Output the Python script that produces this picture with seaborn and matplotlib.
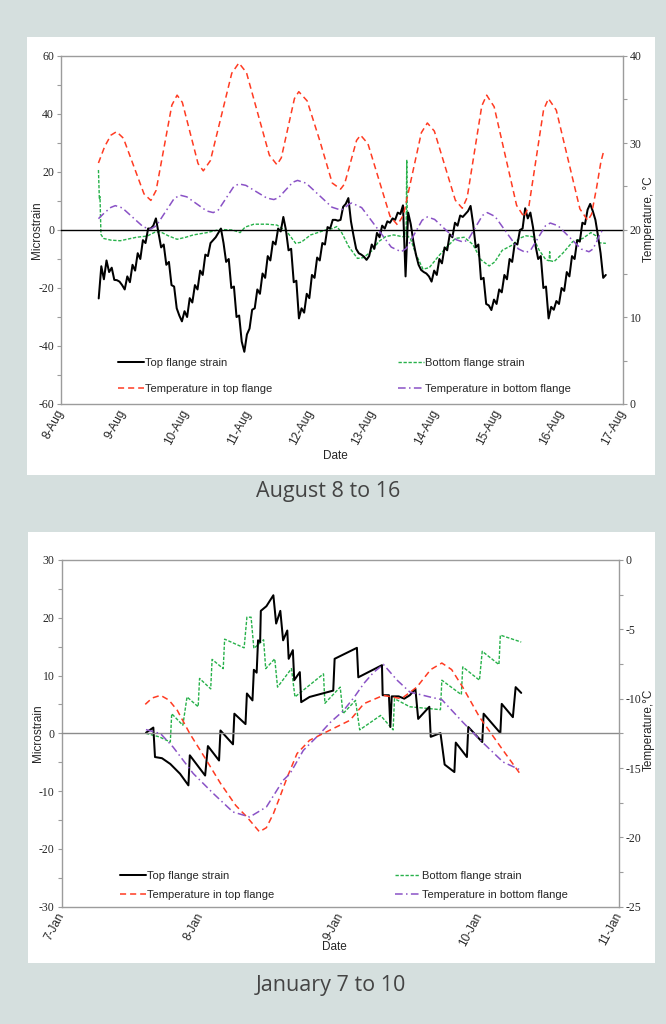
import numpy as np
import pandas as pd
import matplotlib
matplotlib.use("Agg")
import matplotlib.pyplot as plt
from matplotlib.patches import Rectangle
from matplotlib.ticker import MultipleLocator
import seaborn as sns

sns.set_style("white")
plt.rcParams["font.family"] = ["Liberation Sans", "DejaVu Sans"]
plt.rcParams["axes.unicode_minus"] = False

# ---------------------------------------------------------------- August data
aug_ticks = [8, 9, 10, 11, 12, 13, 14, 15, 16, 17]
aug_tick_labels = ["8-Aug", "9-Aug", "10-Aug", "11-Aug", "12-Aug", "13-Aug",
                   "14-Aug", "15-Aug", "16-Aug", "17-Aug"]

# top flange strain, hourly readings starting 8 Aug 14:30
aug_top_strain_start = 8 + 14.5 / 24
aug_top_strain = [
    -23.6, -12.5, -17, -10.5, -14.5, -13, -17.2, -17.3, -17.8, -19, -20.5, -16,
    -18, -12, -14, -8, -10, -3.5, -4.5, 0.5, 0.5, 1.5, 4, -1,
    -6, -5, -12, -11, -19, -19.5, -27, -29.5, -31.5, -28, -30, -23.5,
    -25, -19, -20.5, -14, -15.5, -8.5, -9, -4.5, -3.5, -2.5, -1, 0.5,
    -4.5, -11, -10, -20, -19.5, -30, -29.5, -38.5, -42, -36, -34, -27.5,
    -27, -20.5, -22, -15, -16.5, -9, -10.5, -4, -5, 0.5, -0.5, 4.5,
    0, -7, -6.5, -18, -17.5, -30.5, -27, -28.5, -22, -23.5, -15.5, -16.5,
    -9.5, -10.5, -4.5, -5, 1, 0.5, 3.5, 3.5, 3.2, 3.5, 8, 9,
    11, 3, -2, -6.5, -8, -8.5, -9.2, -10.3, -9, -5, -6.5, -1,
    -2.5, 1.5, 0.5, 3, 2.5, 4, 3.5, 6, 5.5, 8.5, -16, 6,
    2, -4, -8.5, -12, -13.8, -14.5, -15, -16, -17.8, -14, -15.5, -10,
    -11.5, -6, -7, -1.5, -2.5, 2.5, 1.5, 5, 4.5, 5.5, 6.5, 8.3,
    2, -6, -5, -17, -16.5, -25.5, -26, -27.6, -24, -25.5, -20.5, -21.5,
    -15.5, -17, -10, -11, -4.5, -5, 0, 0.5, 7.5, 4, 6, 1,
    -5.5, -10, -9, -20, -19.5, -30.5, -26.5, -27.5, -24.5, -25.5, -20, -21,
    -14.5, -16, -9, -10, -3.5, -4, 2.5, 2, 7, 9, 6.5, 3.5,
    -2, -8, -16.5, -15.5,
]

aug_bottom_strain_day = [
    8.60, 8.615, 8.625, 8.64, 8.68, 8.80, 8.95, 9.10, 9.21, 9.38, 9.50, 9.59,
    9.72, 9.86, 10.00, 10.12, 10.34, 10.55, 10.75, 10.87, 10.95, 11.09, 11.30,
    11.46, 11.62, 11.76, 11.85, 12.00, 12.24, 12.35, 12.42, 12.50, 12.61,
    12.75, 12.85, 12.99, 13.09, 13.20, 13.33, 13.47, 13.53, 13.54, 13.55,
    13.60, 13.68, 13.80, 13.90, 14.05, 14.16, 14.32, 14.46, 14.60, 14.73,
    14.86, 14.95, 15.07, 15.23, 15.34, 15.45, 15.56, 15.66, 15.77, 15.82,
    15.83, 15.84, 15.90, 16.04, 16.20, 16.36, 16.49, 16.57, 16.62, 16.73,
]
aug_bottom_strain = [
    20.7, 10.5, 11.5, -1.5, -2.9, -3.5, -3.7, -3.0, -2.5, -2.1, -0.8, -0.6,
    -2.0, -3.2, -2.5, -1.7, -0.9, 0.2, 0.0, -0.9, 1.0, 2.0, 2.0,
    1.7, -0.6, -4.6, -4.2, -1.7, 0.0, 0.5, 1.2, -1.0, -5.7,
    -9.8, -9.5, -7.0, -4.0, -2.3, -1.7, -2.3, -2.0, 24.2, -2.0,
    -3.0, -8.0, -13.5, -13.0, -9.0, -6.3, -2.9, -2.5, -5.0, -10.3,
    -12.4, -11.0, -7.0, -5.2, -2.9, -2.0, -2.3, -6.9, -10.3, -10.6,
    -7.5, -10.6, -10.9, -8.0, -4.0, -2.9, -0.9, -2.0, -4.4, -4.6,
]

aug_temp_top_day = [
    8.60, 8.70, 8.80, 8.89, 9.00, 9.165, 9.33, 9.44, 9.524, 9.65, 9.776, 9.86,
    9.944, 10.07, 10.196, 10.28, 10.394, 10.565, 10.736, 10.85, 10.972, 11.155,
    11.338, 11.46, 11.53, 11.635, 11.74, 11.81, 11.944, 12.145, 12.346, 12.48,
    12.544, 12.64, 12.736, 12.80, 12.918, 13.095, 13.272, 13.39, 13.486, 13.63,
    13.774, 13.87, 13.982, 14.15, 14.318, 14.43, 14.508, 14.625, 14.742, 14.82,
    14.94, 15.12, 15.30, 15.42, 15.498, 15.615, 15.732, 15.81, 15.936, 16.125,
    16.314, 16.44, 16.50, 16.58, 16.65, 16.70,
]
aug_temp_top = [
    27.7, 29.6, 30.9, 31.3, 30.55, 27.35, 24.15, 23.4, 24.55, 29.45, 34.35, 35.5,
    34.67, 31.15, 27.63, 26.8, 27.98, 33.0, 38.02, 39.2, 38.09, 33.35,
    28.61, 27.5, 28.3, 31.7, 35.1, 35.9, 34.84, 30.3, 25.4, 24.7,
    25.3, 27.8, 30.3, 30.9, 29.92, 25.75, 21.58, 20.6, 21.71, 26.45,
    31.19, 32.3, 31.37, 27.4, 23.43, 22.5, 23.74, 29.0, 34.26, 35.5,
    34.17, 28.5, 22.83, 21.5, 22.79, 28.3, 33.81, 35.1, 33.77, 28.1,
    22.43, 21.1, 21.8, 24.8, 27.8, 29.2,
]

aug_temp_bottom_day = [
    8.60, 8.70, 8.80, 8.87, 8.982, 9.15, 9.318, 9.43, 9.526, 9.67, 9.814, 9.91,
    10.016, 10.175, 10.334, 10.44, 10.522, 10.645, 10.768, 10.85, 10.962, 11.13,
    11.298, 11.41, 11.486, 11.60, 11.714, 11.79, 11.928, 12.135, 12.342, 12.48,
    12.52, 12.57, 12.62, 12.66, 12.818, 13.055, 13.292, 13.45, 13.534, 13.66,
    13.786, 13.87, 13.986, 14.16, 14.334, 14.45, 14.526, 14.64, 14.754, 14.83,
    14.954, 15.14, 15.326, 15.45, 15.528, 15.645, 15.762, 15.84, 15.964, 16.15,
    16.336, 16.46, 16.52, 16.58, 16.64, 16.70,
]
aug_temp_bottom = [
    21.3, 22.0, 22.6, 22.8, 22.54, 21.45, 20.36, 20.1, 20.47, 22.05, 23.63, 24.0,
    23.81, 23.0, 22.19, 22.0, 22.31, 23.65, 24.99, 25.3, 25.13, 24.4,
    23.67, 23.5, 23.71, 24.6, 25.49, 25.7, 25.38, 24.0, 22.62, 22.3,
    22.4, 22.7, 23.0, 23.1, 22.57, 20.3, 18.03, 17.5, 17.88, 19.5,
    21.12, 21.5, 21.22, 20.05, 18.88, 18.6, 18.92, 20.3, 21.68, 22.0,
    21.56, 19.7, 17.84, 17.4, 17.72, 19.1, 20.48, 20.8, 20.49, 19.15,
    17.81, 17.5, 17.8, 18.6, 19.6, 20.2,
]

# --------------------------------------------------------------- January data
jan_ticks = [7, 8, 9, 10, 11]
jan_tick_labels = ["7-Jan", "8-Jan", "9-Jan", "10-Jan", "11-Jan"]

jan_top_strain_day = [
    7.605, 7.658, 7.67, 7.72, 7.78, 7.85, 7.91, 7.92, 8.03, 8.05, 8.13, 8.14,
    8.23, 8.24, 8.32, 8.33, 8.37, 8.38, 8.40, 8.41, 8.425, 8.43, 8.47, 8.52,
    8.54, 8.57, 8.59, 8.62, 8.63, 8.66, 8.67, 8.71, 8.72, 8.78, 8.95, 8.96,
    9.12, 9.13, 9.30, 9.305, 9.35, 9.36, 9.37, 9.42, 9.46, 9.50, 9.54, 9.56,
    9.64, 9.65, 9.72, 9.75, 9.82, 9.83, 9.91, 9.92, 10.02, 10.03, 10.15, 10.16,
    10.24, 10.26, 10.30,
]
jan_top_strain = [
    0.1, 1.0, -4.1, -4.3, -5.3, -7.0, -9.0, -3.8, -7.3, -2.2, -4.7, 0.5,
    -1.9, 3.4, 1.6, 6.9, 5.7, 11.0, 10.5, 16.1, 15.8, 21.2, 22.0, 23.9,
    19.0, 21.2, 16.1, 17.8, 12.9, 14.4, 9.2, 10.6, 5.4, 6.3, 7.4, 12.9,
    14.8, 9.7, 11.8, 6.6, 6.6, 1.1, 6.4, 6.4, 6.0, 6.6, 7.7, 2.5,
    4.6, -0.6, 0.05, -5.4, -6.7, -1.6, -4.1, 1.1, -1.5, 3.4, 0.05, 5.1,
    2.8, 8.0, 7.0,
]

jan_bottom_strain_day = [
    7.605, 7.70, 7.78, 7.79, 7.87, 7.90, 7.98, 7.99, 8.07, 8.08, 8.16, 8.17,
    8.31, 8.33, 8.36, 8.38, 8.45, 8.465, 8.53, 8.55, 8.65, 8.675, 8.88, 8.89,
    9.00, 9.02, 9.11, 9.14, 9.29, 9.38, 9.39, 9.50, 9.72, 9.73, 9.87, 9.88,
    10.00, 10.02, 10.14, 10.15, 10.30,
]
jan_bottom_strain = [
    0.0, -0.6, -1.5, 3.4, 1.4, 6.3, 4.6, 9.5, 7.7, 12.8, 11.2, 16.3,
    14.8, 20.1, 20.1, 14.7, 16.2, 11.2, 12.9, 8.0, 11.2, 6.3, 10.3, 5.2,
    8.0, 3.4, 5.7, 0.6, 3.1, 0.6, 6.0, 4.6, 4.1, 9.2, 6.7, 11.5,
    9.2, 14.2, 11.9, 17.0, 15.8,
]

jan_temp_top_day = [
    7.60, 7.65, 7.71, 7.77, 7.83, 7.92, 8.04, 8.14, 8.25, 8.33, 8.42, 8.47,
    8.52, 8.57, 8.62, 8.69, 8.78, 8.90, 9.07, 9.17, 9.31, 9.44, 9.55, 9.65,
    9.73, 9.80, 9.88, 10.00, 10.17, 10.30,
]
jan_temp_top = [
    -10.41, -9.95, -9.76, -10.1, -10.84, -12.52, -14.45, -16.1, -17.7, -18.53,
    -19.6, -19.3, -18.3, -17.0, -15.65, -13.96, -13.0, -12.4, -11.56, -10.36,
    -9.76, -10.0, -9.17, -7.9, -7.43, -7.9, -9.17, -11.32, -13.73, -15.53,
]

jan_temp_bottom_day = [
    7.605, 7.71, 7.80, 7.945, 8.09, 8.23, 8.35, 8.47, 8.59, 8.64, 8.735, 8.855,
    8.93, 9.02, 9.10, 9.17, 9.24, 9.31, 9.41, 9.50, 9.645, 9.73, 9.88, 10.02,
    10.17, 10.30,
]
jan_temp_bottom = [
    -12.23, -12.52, -13.49, -15.4, -16.85, -18.17, -18.53, -17.81, -15.89,
    -15.4, -13.73, -12.52, -11.7, -10.9, -9.9, -8.9, -8.1, -7.53, -8.68,
    -9.52, -9.88, -10.07, -11.69, -13.13, -14.57, -15.17,
]

series_labels = ["Top flange strain", "Bottom flange strain",
                 "Temperature in top flange", "Temperature in bottom flange"]

# ------------------------------------------------------------------ styling
PAGE = "#d5dfde"
SPINE = "#9c9c9c"
C_TOP = "#000000"
C_BOT = "#27b14a"
C_TTOP = "#ff3b22"
C_TBOT = "#8a52c6"
SERIF = ["Liberation Serif", "DejaVu Serif"]

W, H = 666, 1024
fig = plt.figure(figsize=(W / 100, H / 100), dpi=100)
fig.patch.set_facecolor(PAGE)


def fx(px):
    return px / W


def fy(py):
    return 1 - py / H


for (x0, y0, x1, y1) in [(27, 37, 655, 475), (28, 532, 655, 963)]:
    fig.add_artist(Rectangle((fx(x0), fy(y1)), fx(x1 - x0), (y1 - y0) / H,
                             transform=fig.transFigure, facecolor="white",
                             edgecolor="none", zorder=0))


def draw_series(ax, ax2, x_top, y_top, x_bot, y_bot, x_tt, y_tt, x_tb, y_tb):
    sns.lineplot(x=x_bot, y=y_bot, ax=ax, color=C_BOT, linewidth=1.0,
                 linestyle=(0, (2.4, 1.2)), estimator=None, sort=False,
                 legend=False)
    sns.lineplot(x=x_top, y=y_top, ax=ax, color=C_TOP, linewidth=1.45,
                 estimator=None, sort=False, legend=False)
    sns.lineplot(x=x_tt, y=y_tt, ax=ax2, color=C_TTOP, linewidth=1.1,
                 linestyle=(0, (4.0, 2.6)), estimator=None, sort=False,
                 legend=False)
    sns.lineplot(x=x_tb, y=y_tb, ax=ax2, color=C_TBOT, linewidth=1.1,
                 linestyle=(0, (5.0, 2.2, 1.0, 2.2)), estimator=None,
                 sort=False, legend=False)
    h_bot, h_top = ax.lines[0], ax.lines[1]
    h_tt, h_tb = ax2.lines[0], ax2.lines[1]
    return h_top, h_bot, h_tt, h_tb


def style_panel(ax, ax2, xlim, ticks, tick_labels, ylim, ymaj, ymin,
                y2lim, y2maj, y2min, zero_color, temp_label,
                ylab_xy, y2lab_xy, date_xy, leg_left, leg_right, leg_sp,
                handles):
    ax.set_xlim(*xlim)
    ax.set_ylim(*ylim)
    ax2.set_ylim(*y2lim)
    ax.set_facecolor("none")

    # horizontal axis crosses at zero strain
    ax.spines["bottom"].set_position(("data", 0))
    ax.spines["bottom"].set_color(zero_color)
    ax.spines["bottom"].set_linewidth(1.0)
    ax.xaxis.set_major_locator(MultipleLocator(0.5))
    ax.tick_params(axis="x", which="both", direction="out", length=3,
                   width=0.8, color=zero_color, labelbottom=False)

    for side in ["left", "top"]:
        ax.spines[side].set_color(SPINE)
        ax.spines[side].set_linewidth(1.0)
    ax.spines["right"].set_visible(False)
    for side in ["left", "top", "bottom"]:
        ax2.spines[side].set_visible(False)
    ax2.spines["right"].set_color(SPINE)
    ax2.spines["right"].set_linewidth(1.0)

    ax.yaxis.set_major_locator(MultipleLocator(ymaj))
    ax.yaxis.set_minor_locator(MultipleLocator(ymin))
    ax.tick_params(axis="y", which="both", direction="out", color=SPINE,
                   width=0.8, length=3, labelsize=8.5,
                   labelfontfamily=SERIF[0], pad=2)
    ax2.yaxis.set_major_locator(MultipleLocator(y2maj))
    ax2.yaxis.set_minor_locator(MultipleLocator(y2min))
    ax2.tick_params(axis="y", which="both", direction="out", color=SPINE,
                    width=0.8, length=3, labelsize=8.5,
                    labelfontfamily=SERIF[0], pad=2)

    # plot-area bottom border carrying the date labels
    sec = ax.secondary_xaxis("bottom")
    sec.spines["bottom"].set_color(SPINE)
    sec.spines["bottom"].set_linewidth(1.0)
    sec.set_xticks(ticks)
    sec.set_xticklabels(tick_labels)
    sec.tick_params(axis="x", length=0, pad=5, labelsize=8.5)
    for lab in sec.get_xticklabels():
        lab.set_rotation(62)
        lab.set_rotation_mode("anchor")
        lab.set_ha("right")
        lab.set_va("center")

    ax.set_xlabel("Date", fontsize=8.5)
    ax.xaxis.set_label_coords(*date_xy)
    ax.set_ylabel("Microstrain", fontsize=8.5)
    ax.yaxis.set_label_coords(*ylab_xy)
    ax2.set_ylabel(temp_label, fontsize=8.5)
    ax2.yaxis.set_label_coords(*y2lab_xy)

    h_top, h_bot, h_tt, h_tb = handles
    common = dict(frameon=False, fontsize=8, handlelength=2.3,
                  handletextpad=0.15, borderpad=0, borderaxespad=0,
                  labelspacing=leg_sp, loc="center left")
    leg1 = ax2.legend([h_top, h_tt], [series_labels[0], series_labels[2]],
                      bbox_to_anchor=leg_left, **common)
    ax2.add_artist(leg1)
    ax2.legend([h_bot, h_tb], [series_labels[1], series_labels[3]],
               bbox_to_anchor=leg_right, **common)


# ------------------------------------------------------------ August panel
axA = fig.add_axes([fx(61), fy(404), fx(622.7 - 61), (404 - 56) / H])
axA2 = axA.twinx()
aug_top_day = [aug_top_strain_start + i / 24 for i in range(len(aug_top_strain))]
hA = draw_series(axA, axA2, aug_top_day, aug_top_strain,
                 aug_bottom_strain_day, aug_bottom_strain,
                 aug_temp_top_day, aug_temp_top,
                 aug_temp_bottom_day, aug_temp_bottom)
style_panel(axA, axA2, (8, 17), aug_ticks, aug_tick_labels, (-60, 60), 20, 10,
            (0, 40), 10, 5, "#000000", "Temperature, \u00b0C",
            (-0.032, 0.5), (1.036, 0.53), (0.488, -0.132),
            (0.1015, 0.081), (0.60, 0.081), 1.45, hA)

# ----------------------------------------------------------- January panel
axB = fig.add_axes([fx(61.7), fy(906.7), fx(618.7 - 61.7), (906.7 - 560) / H])
axB2 = axB.twinx()
hB = draw_series(axB, axB2, jan_top_strain_day, jan_top_strain,
                 jan_bottom_strain_day, jan_bottom_strain,
                 jan_temp_top_day, jan_temp_top,
                 jan_temp_bottom_day, jan_temp_bottom)
style_panel(axB, axB2, (7, 11), jan_ticks, jan_tick_labels, (-30, 30), 10, 5,
            (-25, 0), 5, 2.5, "#8c8c8c", "Temperature,\u00b0C",
            (-0.032, 0.5), (1.044, 0.51), (0.49, -0.1),
            (0.1047, 0.0614), (0.598, 0.0614), 0.8, hB)

# ---------------------------------------------------------------- captions
fig.text(fx(328), fy(492), "August 8 to 16", ha="center", va="center",
         fontsize=15.5, color="#444444", family=["Open Sans", "DejaVu Sans"])
fig.text(fx(331), fy(985), "January 7 to 10", ha="center", va="center",
         fontsize=15.5, color="#444444", family=["Open Sans", "DejaVu Sans"])

fig.savefig("out.png", dpi=100, facecolor=PAGE)
